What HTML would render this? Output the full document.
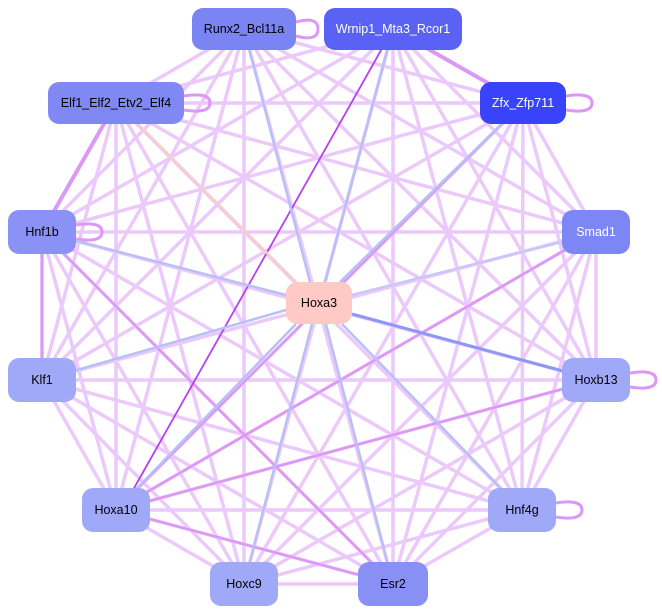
<!DOCTYPE html>
<html><head><meta charset="utf-8"><style>
html,body{margin:0;padding:0;background:#fff;width:662px;height:614px;overflow:hidden}
text{font-family:"Liberation Sans",sans-serif;font-size:12.5px;text-anchor:middle;dominant-baseline:central}
</style></head><body>
<svg width="662" height="614" viewBox="0 0 662 614">
<g stroke="#ecc9fb" stroke-width="3.5" fill="none">
<line x1="244" y1="29" x2="523" y2="103"/>
<line x1="244" y1="29" x2="116" y2="103"/>
<line x1="244" y1="29" x2="42" y2="232"/>
<line x1="244" y1="29" x2="596" y2="232"/>
<line x1="244" y1="29" x2="42" y2="380"/>
<line x1="244" y1="29" x2="596" y2="380"/>
<line x1="244" y1="29" x2="116" y2="510"/>
<line x1="244" y1="29" x2="522" y2="510"/>
<line x1="244" y1="29" x2="244" y2="584"/>
<line x1="244" y1="29" x2="393" y2="584"/>
<line x1="393" y1="29" x2="116" y2="103"/>
<line x1="393" y1="29" x2="42" y2="232"/>
<line x1="393" y1="29" x2="596" y2="232"/>
<line x1="393" y1="29" x2="42" y2="380"/>
<line x1="393" y1="29" x2="596" y2="380"/>
<line x1="393" y1="29" x2="522" y2="510"/>
<line x1="393" y1="29" x2="244" y2="584"/>
<line x1="393" y1="29" x2="393" y2="584"/>
<line x1="523" y1="103" x2="116" y2="103"/>
<line x1="523" y1="103" x2="42" y2="232"/>
<line x1="523" y1="103" x2="596" y2="232"/>
<line x1="523" y1="103" x2="42" y2="380"/>
<line x1="523" y1="103" x2="596" y2="380"/>
<line x1="523" y1="103" x2="116" y2="510"/>
<line x1="523" y1="103" x2="522" y2="510"/>
<line x1="523" y1="103" x2="244" y2="584"/>
<line x1="523" y1="103" x2="393" y2="584"/>
<line x1="116" y1="103" x2="596" y2="232"/>
<line x1="116" y1="103" x2="42" y2="380"/>
<line x1="116" y1="103" x2="596" y2="380"/>
<line x1="116" y1="103" x2="116" y2="510"/>
<line x1="116" y1="103" x2="522" y2="510"/>
<line x1="116" y1="103" x2="244" y2="584"/>
<line x1="116" y1="103" x2="393" y2="584"/>
<line x1="42" y1="232" x2="596" y2="232"/>
<line x1="42" y1="232" x2="42" y2="380"/>
<line x1="42" y1="232" x2="596" y2="380"/>
<line x1="42" y1="232" x2="116" y2="510"/>
<line x1="42" y1="232" x2="522" y2="510"/>
<line x1="42" y1="232" x2="244" y2="584"/>
<line x1="42" y1="232" x2="393" y2="584"/>
<line x1="596" y1="232" x2="42" y2="380"/>
<line x1="596" y1="232" x2="596" y2="380"/>
<line x1="596" y1="232" x2="116" y2="510"/>
<line x1="596" y1="232" x2="522" y2="510"/>
<line x1="596" y1="232" x2="244" y2="584"/>
<line x1="596" y1="232" x2="393" y2="584"/>
<line x1="42" y1="380" x2="596" y2="380"/>
<line x1="42" y1="380" x2="116" y2="510"/>
<line x1="42" y1="380" x2="522" y2="510"/>
<line x1="42" y1="380" x2="244" y2="584"/>
<line x1="42" y1="380" x2="393" y2="584"/>
<line x1="596" y1="380" x2="116" y2="510"/>
<line x1="596" y1="380" x2="522" y2="510"/>
<line x1="596" y1="380" x2="244" y2="584"/>
<line x1="596" y1="380" x2="393" y2="584"/>
<line x1="116" y1="510" x2="522" y2="510"/>
<line x1="116" y1="510" x2="244" y2="584"/>
<line x1="116" y1="510" x2="393" y2="584"/>
<line x1="522" y1="510" x2="244" y2="584"/>
<line x1="522" y1="510" x2="393" y2="584"/>
<line x1="244" y1="584" x2="393" y2="584"/>
</g>
<g stroke="#dc98f4" stroke-width="2.5" fill="none">
<line x1="393" y1="29" x2="523" y2="103" stroke-width="4"/>
<line x1="42" y1="232" x2="116" y2="103" stroke-width="4"/>
<line x1="42" y1="380" x2="42" y2="232" stroke-width="3"/>
<line x1="523" y1="103" x2="116" y2="510"/>
<line x1="596" y1="232" x2="116" y2="510"/>
<line x1="596" y1="380" x2="116" y2="510"/>
<line x1="42" y1="232" x2="393" y2="584"/>
<line x1="116" y1="510" x2="393" y2="584"/>
<path d="M296 22 q22 -6 22 7 q0 13 -22 7" stroke-width="3"/>
<path d="M184 96 q26 -4 26 7 q0 11 -26 7" stroke-width="3"/>
<path d="M76 225 q26 -4 26 7 q0 11 -26 7" stroke-width="3"/>
<path d="M566 96 q26 -4 26 7 q0 11 -26 7" stroke-width="3"/>
<path d="M630 373 q26 -4 26 7 q0 11 -26 7" stroke-width="3"/>
<path d="M556 503 q26 -4 26 7 q0 11 -26 7" stroke-width="3"/>
</g>
<line x1="393" y1="29" x2="133" y2="490" stroke="#b840f0" stroke-width="1.8"/>
<g stroke="#b8c0f8" stroke-width="2.5">
<line x1="244" y1="29" x2="310" y2="282"/>
<line x1="393" y1="29" x2="325" y2="282"/>
<line x1="523" y1="103" x2="340" y2="282"/>
<line x1="42" y1="232" x2="286" y2="295"/>
<line x1="42" y1="380" x2="286" y2="310"/>
<line x1="116" y1="510" x2="296" y2="324"/>
<line x1="244" y1="584" x2="312" y2="324"/>
<line x1="393" y1="584" x2="326" y2="324"/>
<line x1="522" y1="510" x2="342" y2="324"/>
<line x1="596" y1="380" x2="352" y2="314" stroke="#8c98f4" stroke-width="3"/>
</g>
<line x1="140" y1="126" x2="296" y2="282" stroke="#f8cfc8" stroke-width="2.5"/>
<line x1="352" y1="295" x2="562" y2="242" stroke="#c8c8f8" stroke-width="2.5"/>
<g>
<rect x="192" y="8" width="104" height="42" rx="11" fill="#7b84f3"/>
<text x="244" y="29">Runx2_Bcl11a</text>
<rect x="324" y="8" width="138" height="42" rx="11" fill="#5a62f6"/>
<text x="393" y="29" fill="#fff">Wrnip1_Mta3_Rcor1</text>
<rect x="480" y="82" width="86" height="42" rx="11" fill="#3843fa"/>
<text x="523" y="103" fill="#fff">Zfx_Zfp711</text>
<rect x="48" y="82" width="136" height="42" rx="11" fill="#8088f4"/>
<text x="116" y="103">Elf1_Elf2_Etv2_Elf4</text>
<rect x="8" y="210" width="68" height="44" rx="11" fill="#8a93f5"/>
<text x="42" y="232">Hnf1b</text>
<rect x="562" y="210" width="68" height="44" rx="11" fill="#7d86f5"/>
<text x="596" y="232" fill="#fff">Smad1</text>
<rect x="286" y="282" width="66" height="42" rx="11" fill="#ffc9c6"/>
<text x="319" y="303">Hoxa3</text>
<rect x="8" y="358" width="68" height="44" rx="11" fill="#a0a8f8"/>
<text x="42" y="380">Klf1</text>
<rect x="562" y="358" width="68" height="44" rx="11" fill="#a0a8f8"/>
<text x="596" y="380">Hoxb13</text>
<rect x="82" y="488" width="68" height="44" rx="11" fill="#a0a8f8"/>
<text x="116" y="510">Hoxa10</text>
<rect x="488" y="488" width="68" height="44" rx="11" fill="#a0a8f8"/>
<text x="522" y="510">Hnf4g</text>
<rect x="210" y="562" width="68" height="44" rx="11" fill="#a0a8f8"/>
<text x="244" y="584">Hoxc9</text>
<rect x="358" y="562" width="70" height="44" rx="11" fill="#8890f6"/>
<text x="393" y="584">Esr2</text>
</g>
</svg>
</body></html>
